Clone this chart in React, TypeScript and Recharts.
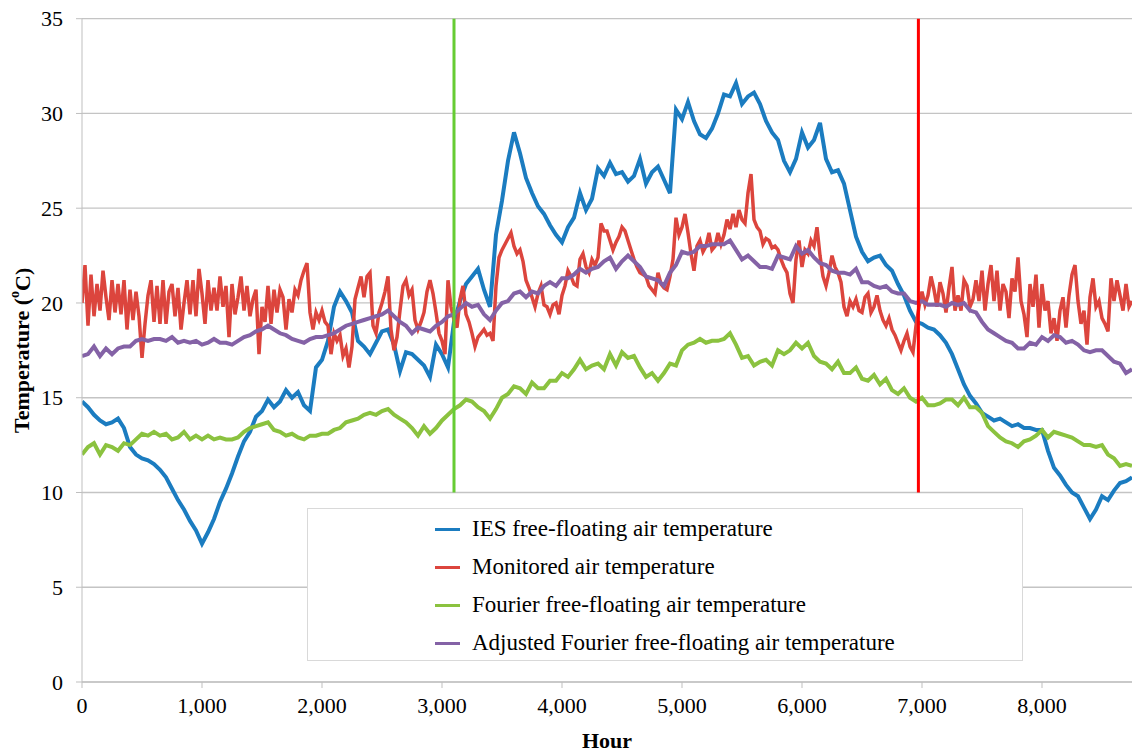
import React from 'react';
import { LineChart, Line, XAxis, YAxis, CartesianGrid, Legend } from 'recharts';

const HOUR_STEP = 50;
const MON_STEP = 25;

// IES free-floating air temperature (every 50 h, 0..8750)
const IES = [
  14.8, 14.5, 14.1, 13.8, 13.6, 13.7, 13.9, 13.4, 12.4, 12.0,
  11.8, 11.7, 11.5, 11.2, 10.8, 10.2, 9.6, 9.1, 8.5, 8.0,
  7.3, 7.9, 8.6, 9.5, 10.2, 11.0, 11.9, 12.7, 13.2, 14.0,
  14.3, 14.9, 14.5, 14.8, 15.4, 15.0, 15.3, 14.6, 14.3, 16.6,
  17.0, 18.0, 19.8, 20.6, 20.1, 19.5, 18.0, 17.7, 17.3, 17.9,
  18.5, 18.6, 17.8, 16.4, 17.4, 17.3, 17.0, 16.7, 16.1, 17.8,
  17.3, 16.6, 19.0, 20.1, 21.0, 21.4, 21.8, 20.7, 19.8, 23.6,
  25.4, 27.5, 29.0, 27.9, 26.6, 25.8, 25.1, 24.7, 24.1, 23.6,
  23.2, 24.0, 24.5, 25.8, 24.9, 25.5, 27.1, 26.7, 27.4, 26.8,
  26.9, 26.4, 26.7, 27.6, 26.3, 26.9, 27.2, 26.5, 25.8, 30.2,
  29.7, 30.6, 29.6, 28.9, 28.7, 29.2, 30.0, 31.0, 30.9, 31.6,
  30.5, 30.9, 31.1, 30.5, 29.6, 29.0, 28.6, 27.5, 26.9, 27.6,
  29.0, 28.2, 28.6, 29.5, 27.6, 26.9, 27.0, 26.3, 24.9, 23.5,
  22.7, 22.2, 22.4, 22.5, 22.0, 21.7, 21.0, 20.4, 19.6, 19.0,
  18.9, 18.7, 18.6, 18.3, 17.9, 17.3, 16.5, 15.7, 15.1, 14.7,
  14.2, 14.0, 13.8, 13.9, 13.7, 13.5, 13.6, 13.4, 13.4, 13.3,
  13.3, 12.2, 11.3, 10.9, 10.4, 10.0, 9.8, 9.2, 8.6, 9.1,
  9.8, 9.6, 10.1, 10.5, 10.6, 10.8,
];

// Monitored air temperature (every 25 h, 0..8750)
const MONITORED = [
  20.0, 22.0, 18.8, 21.5, 19.3, 21.0, 19.6, 21.7, 20.3, 19.1,
  21.2, 19.5, 21.0, 19.4, 21.2, 18.6, 20.7, 19.1, 20.6, 19.3,
  17.1, 18.9, 20.4, 21.2, 19.0, 20.9, 18.9, 21.2, 18.9, 20.6,
  21.0, 19.3, 20.8, 18.6, 20.0, 21.2, 19.4, 21.2, 19.3, 21.8,
  20.5, 18.9, 21.2, 19.6, 20.8, 19.6, 21.4, 19.8, 20.9, 18.2,
  21.0, 19.4, 20.3, 21.4, 19.6, 20.9, 19.3, 20.2, 20.7, 17.3,
  19.8, 19.0, 20.9, 18.9, 20.7, 19.5, 20.7, 20.3, 18.6, 20.2,
  19.5, 20.7, 20.4, 21.2, 21.7, 22.1, 19.5, 18.6, 19.5, 19.1,
  19.6, 19.0, 18.8, 17.3, 18.4, 18.0, 18.3, 17.2, 17.6, 16.6,
  17.7, 20.2, 20.8, 21.4, 20.3, 21.4, 21.6, 18.8, 18.4, 19.5,
  20.0, 20.6, 21.4, 18.6, 17.5, 18.2, 19.6, 20.9, 21.2, 20.4,
  20.7, 19.1, 18.6, 19.0, 19.5, 20.6, 21.2, 20.5, 19.5, 18.4,
  18.0, 17.3, 21.2, 19.8, 19.1, 18.7, 20.2, 20.9, 19.4, 19.0,
  18.4, 17.7, 18.2, 18.4, 18.6, 18.3, 18.4, 18.0, 20.9, 22.4,
  22.8, 23.1, 23.4, 23.7, 23.0, 22.6, 22.8, 22.2, 21.2, 20.8,
  20.3, 19.8, 20.5, 20.9, 19.9, 19.8, 19.4, 19.9, 20.0, 19.4,
  20.4, 20.9, 21.7, 21.4, 21.0, 20.9, 22.3, 22.6, 21.9, 21.6,
  22.3, 22.0, 22.4, 24.2, 23.8, 23.8, 23.3, 22.8, 23.2, 23.5,
  24.0, 23.8, 23.3, 22.8, 22.3, 21.9, 21.6, 21.5, 21.4, 20.9,
  20.7, 20.5, 21.6, 21.0, 20.8, 20.7, 21.4, 22.3, 24.5, 23.6,
  24.0, 24.7, 23.7, 22.6, 21.7, 23.0, 23.3, 22.7, 23.0, 23.7,
  22.8, 23.0, 23.7, 23.1, 23.6, 24.4, 23.9, 24.7, 24.0, 24.9,
  24.4, 24.2, 25.8, 26.8, 24.4, 24.0, 23.8, 23.1, 23.4, 23.3,
  22.9, 23.0, 22.8, 22.3, 21.9, 21.6, 20.5, 20.0, 22.3, 23.3,
  21.9, 22.8, 22.6, 23.3, 23.0, 24.0, 22.5, 21.4, 20.9, 21.6,
  22.5, 21.9, 21.6, 21.1, 19.8, 19.3, 20.1, 19.8, 20.2, 19.6,
  19.5, 20.3, 20.5, 19.5, 19.8, 20.4, 19.6, 19.1, 18.8, 19.2,
  18.6, 18.3, 17.9, 17.5, 18.0, 18.4, 17.7, 17.4, 18.8, 19.8,
  20.6, 19.9, 20.4, 21.4, 20.7, 19.8, 21.1, 20.5, 19.5, 20.8,
  21.9, 19.6, 20.4, 19.6, 21.2, 20.9, 19.8, 20.2, 21.2, 20.1,
  21.7, 19.6, 21.0, 22.0, 20.1, 21.7, 19.6, 21.0, 20.6, 19.2,
  21.3, 20.6, 22.4, 20.1, 19.4, 18.2, 21.0, 19.8, 21.5, 18.7,
  21.0, 19.6, 20.1, 18.4, 19.2, 18.0, 19.6, 20.3, 18.7, 20.4,
  21.5, 22.0, 20.1, 18.9, 19.6, 17.8, 20.3, 21.3, 19.8, 20.1,
  19.2, 18.9, 18.5, 21.3, 20.1, 21.2, 20.4, 19.6, 21.0, 19.8,
  20.1,
];

// Fourier free-floating air temperature (every 50 h)
const FOURIER = [
  12.0, 12.4, 12.6, 12.0, 12.5, 12.4, 12.2, 12.6, 12.5, 12.8,
  13.1, 13.0, 13.2, 13.0, 13.1, 12.8, 12.9, 13.2, 12.8, 13.0,
  12.8, 13.0, 12.8, 12.9, 12.8, 12.8, 12.9, 13.2, 13.4, 13.5,
  13.6, 13.7, 13.3, 13.2, 13.0, 13.1, 12.9, 12.8, 13.0, 13.0,
  13.1, 13.1, 13.3, 13.4, 13.7, 13.8, 13.9, 14.1, 14.2, 14.1,
  14.3, 14.4, 14.1, 13.9, 13.7, 13.4, 13.0, 13.5, 13.1, 13.4,
  13.8, 14.1, 14.4, 14.6, 14.9, 14.8, 14.5, 14.3, 13.9, 14.4,
  15.0, 15.2, 15.6, 15.5, 15.2, 15.8, 15.5, 15.5, 15.9, 15.9,
  16.3, 16.1, 16.5, 17.0, 16.5, 16.7, 16.8, 16.5, 17.3, 16.7,
  17.4, 17.1, 17.2, 16.6, 16.1, 16.3, 15.9, 16.3, 16.8, 16.7,
  17.5, 17.8, 17.9, 18.1, 17.9, 18.0, 18.0, 18.1, 18.4, 17.8,
  17.1, 17.2, 16.7, 16.9, 17.0, 16.7, 17.5, 17.3, 17.5, 17.9,
  17.6, 17.9, 17.2, 16.9, 16.8, 16.5, 16.9, 16.3, 16.3, 16.6,
  16.0, 15.9, 16.2, 15.7, 16.0, 15.4, 15.2, 15.5, 15.0, 14.8,
  15.0, 14.6, 14.6, 14.7, 14.9, 14.9, 14.6, 15.0, 14.5, 14.5,
  14.2, 13.5, 13.2, 12.9, 12.7, 12.6, 12.4, 12.7, 12.8, 13.0,
  13.3, 12.9, 13.2, 13.1, 13.0, 12.9, 12.7, 12.5, 12.5, 12.4,
  12.5, 12.0, 11.8, 11.4, 11.5, 11.4,
];

// Adjusted Fourier free-floating air temperature (every 50 h)
const ADJUSTED = [
  17.2, 17.3, 17.7, 17.2, 17.6, 17.3, 17.6, 17.7, 17.7, 18.0,
  18.1, 18.0, 18.1, 18.1, 18.0, 18.2, 17.9, 18.0, 17.9, 18.0,
  17.8, 17.9, 18.1, 17.9, 17.9, 17.8, 18.0, 18.2, 18.3, 18.5,
  18.6, 18.8, 18.6, 18.4, 18.3, 18.1, 18.0, 17.9, 18.1, 18.2,
  18.2, 18.3, 18.4, 18.6, 18.8, 18.9, 19.0, 19.1, 19.2, 19.3,
  19.4, 19.6, 19.3, 19.0, 18.8, 18.4, 18.7, 18.6, 18.5, 18.8,
  19.0, 19.3, 19.4, 19.7, 20.0, 19.8, 19.9, 19.4, 19.1, 19.6,
  20.0, 20.1, 20.5, 20.6, 20.3, 20.6, 20.5, 20.9, 21.1, 20.9,
  21.3, 21.3, 21.5, 21.8, 21.6, 21.8, 21.9, 22.2, 22.4, 21.8,
  22.2, 22.5, 22.2, 21.9, 21.4, 21.3, 21.2, 20.9, 21.6, 22.0,
  22.7, 22.6, 22.7, 23.0, 23.0, 23.1, 23.1, 23.1, 23.3, 22.8,
  22.3, 22.5, 22.2, 21.9, 21.9, 21.8, 22.5, 22.4, 22.3, 23.0,
  22.6, 22.8, 22.4, 22.1, 22.0, 21.7, 21.6, 21.6, 21.5, 21.8,
  21.1, 21.1, 20.9, 20.8, 20.9, 20.6, 20.5, 20.5, 20.1, 20.0,
  20.1, 19.9, 19.9, 19.9, 19.8, 20.0, 19.9, 20.0, 19.6, 19.5,
  19.0, 18.6, 18.4, 18.2, 18.0, 17.9, 17.6, 17.6, 17.9, 17.8,
  18.2, 18.0, 18.3, 18.2, 17.9, 18.0, 17.8, 17.5, 17.4, 17.5,
  17.5, 17.2, 16.9, 16.8, 16.3, 16.5,
];

const X_TICKS = [0, 1000, 2000, 3000, 4000, 5000, 6000, 7000, 8000];
const Y_TICKS = [0, 5, 10, 15, 20, 25, 30, 35];
const X_MAX = 8750;

const GREEN_MARK_HOUR = 3100;
const RED_MARK_HOUR = 6970;
const MARK_RANGE = [10, 35];

const SERIES = [
  { key: 'ies', name: 'IES free-floating air temperature', color: '#1b7cc0', width: 4 },
  { key: 'mon', name: 'Monitored air temperature', color: '#dc453d', width: 3.5 },
  { key: 'four', name: 'Fourier free-floating air temperature', color: '#8bc23f', width: 4 },
  { key: 'adj', name: 'Adjusted Fourier free-floating air temperature', color: '#8462a6', width: 4 },
];

const data = IES.map((_, i) => ({
  h: i * HOUR_STEP,
  ies: IES[i],
  four: FOURIER[i],
  adj: ADJUSTED[i],
}));

const monitoredData = MONITORED.map((v, i) => ({ h: i * MON_STEP, mon: v }));

const greenMark = MARK_RANGE.map((v) => ({ h: GREEN_MARK_HOUR, v }));
const redMark = MARK_RANGE.map((v) => ({ h: RED_MARK_HOUR, v }));

const FONT = "'Liberation Serif', 'Times New Roman', serif";

const renderLegend = () => (
  <div
    style={{
      width: 716,
      height: 153,
      boxSizing: 'border-box',
      border: '1px solid #d9d9d9',
      background: '#fff',
      position: 'relative',
      fontFamily: FONT,
      fontSize: 23,
      color: '#000',
    }}
  >
    {SERIES.map((s, i) => (
      <div
        key={s.key}
        style={{
          position: 'absolute',
          left: 127,
          top: 20 + i * 38 - 15,
          height: 30,
          display: 'flex',
          alignItems: 'center',
          whiteSpace: 'nowrap',
        }}
      >
        <span style={{ display: 'inline-block', width: 25, height: 3, background: s.color, marginRight: 12 }} />
        <span>{s.name}</span>
      </div>
    ))}
  </div>
);

const YTitle = (props: any) => {
  const { viewBox } = props;
  const cx = 22;
  const cy = viewBox.y + viewBox.height / 2;
  return (
    <text
      x={cx}
      y={cy}
      transform={`rotate(-90, ${cx}, ${cy})`}
      textAnchor="middle"
      dominantBaseline="central"
      fontFamily={FONT}
      fontWeight="bold"
      fontSize={22}
      fill="#000"
    >
      Temperature (<tspan fontSize={14} dy={-8}>o</tspan>
      <tspan dy={8}>C)</tspan>
    </text>
  );
};

const XTitle = (props: any) => {
  const { viewBox } = props;
  return (
    <text
      x={viewBox.x + viewBox.width / 2}
      y={viewBox.y + 66}
      textAnchor="middle"
      fontFamily={FONT}
      fontWeight="bold"
      fontSize={22}
      fill="#000"
    >
      Hour
    </text>
  );
};

const XTick = (props: any) => {
  const { x, y, payload } = props;
  return (
    <text x={x} y={y} dy="0.71em" textAnchor="middle" fontFamily={FONT} fontSize={22} fill="#000">
      {Number(payload.value).toLocaleString('en-US')}
    </text>
  );
};

const YTick = (props: any) => {
  const { x, y, payload } = props;
  return (
    <text x={x} y={y} dy="0.35em" textAnchor="end" fontFamily={FONT} fontSize={22} fill="#000">
      {payload.value}
    </text>
  );
};

export default function App() {
  return (
    <div style={{ position: 'absolute', left: 0, top: 0, width: 1132, height: 753, fontFamily: FONT }}>
      <LineChart width={1132} height={753} data={data} margin={{ top: 18.7, right: 0, bottom: 0, left: 0 }}>
        <CartesianGrid horizontal vertical={false} stroke="#c4c4c4" strokeWidth={1.3} />
        <XAxis
          type="number"
          dataKey="h"
          domain={[0, X_MAX]}
          ticks={X_TICKS}
          allowDataOverflow
          height={71}
          tickSize={6}
          tickMargin={9}
          stroke="#bfbfbf"
          tick={XTick}
          label={XTitle}
        />
        <YAxis
          type="number"
          domain={[0, 35]}
          ticks={Y_TICKS}
          width={82}
          tickSize={6}
          tickMargin={13}
          stroke="#bfbfbf"
          tick={YTick}
          label={YTitle}
        />
        <Line
          type="linear"
          dataKey="ies"
          name={SERIES[0].name}
          stroke={SERIES[0].color}
          strokeWidth={SERIES[0].width}
          dot={false}
          activeDot={false}
          isAnimationActive={false}
        />
        <Line
          data={monitoredData}
          type="linear"
          dataKey="mon"
          name={SERIES[1].name}
          stroke={SERIES[1].color}
          strokeWidth={SERIES[1].width}
          dot={false}
          activeDot={false}
          isAnimationActive={false}
        />
        <Line
          type="linear"
          dataKey="four"
          name={SERIES[2].name}
          stroke={SERIES[2].color}
          strokeWidth={SERIES[2].width}
          dot={false}
          activeDot={false}
          isAnimationActive={false}
        />
        <Line
          type="linear"
          dataKey="adj"
          name={SERIES[3].name}
          stroke={SERIES[3].color}
          strokeWidth={SERIES[3].width}
          dot={false}
          activeDot={false}
          isAnimationActive={false}
        />
        <Line
          data={greenMark}
          dataKey="v"
          type="linear"
          stroke="#66cc33"
          strokeWidth={3}
          dot={false}
          activeDot={false}
          legendType="none"
          isAnimationActive={false}
        />
        <Line
          data={redMark}
          dataKey="v"
          type="linear"
          stroke="#ff0000"
          strokeWidth={3}
          dot={false}
          activeDot={false}
          legendType="none"
          isAnimationActive={false}
        />
        <Legend
          layout="horizontal"
          verticalAlign="middle"
          align="center"
          content={renderLegend}
          wrapperStyle={{ left: 307, top: 508, width: 716, height: 153 }}
        />
      </LineChart>
    </div>
  );
}
